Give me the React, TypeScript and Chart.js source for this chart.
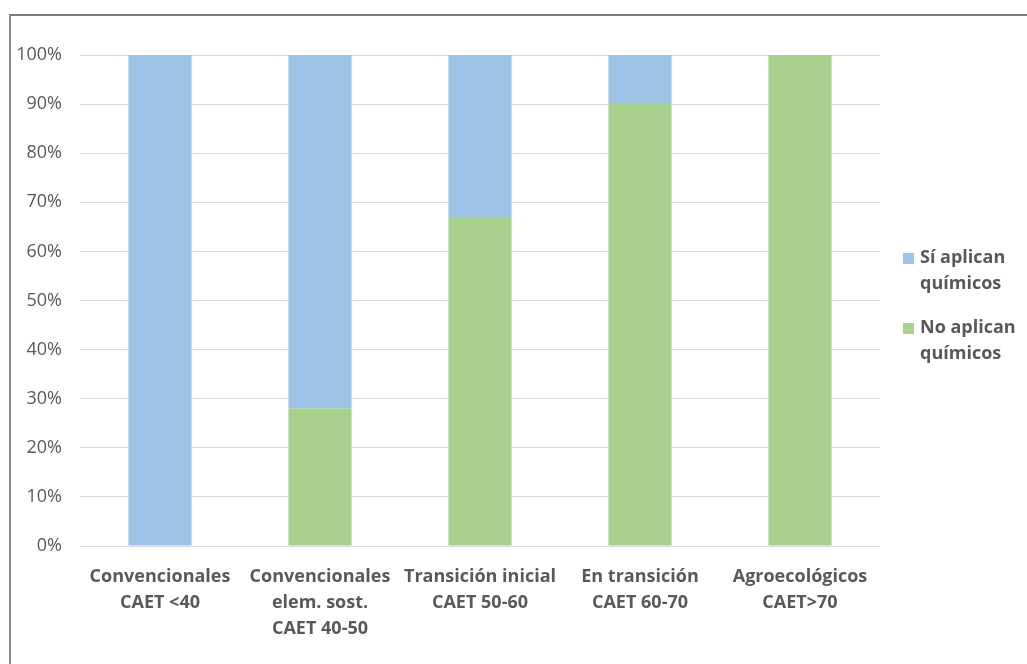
import React, { useEffect, useRef } from "react";
import { Chart, registerables } from "chart.js";

Chart.register(...registerables);

const categories: string[][] = [
  ["Convencionales", "CAET <40"],
  ["Convencionales", "elem. sost.", "CAET 40-50"],
  ["Transición inicial", "CAET 50-60"],
  ["En transición", "CAET 60-70"],
  ["Agroecológicos", "CAET>70"],
];
const noAplican: number[] = [0, 28, 67, 90, 100];
const siAplican: number[] = [100, 72, 33, 10, 0];
const legendOrder: string[][] = [
  ["Sí aplican", "químicos"],
  ["No aplican", "químicos"],
];

const BLUE = "#9DC3E6";
const GREEN = "#A9D18E";
const TEXT = "#595959";
const FONT = "'Open Sans', sans-serif";

const legendPlugin = {
  id: "sideLegend",
  afterDraw(chart: any) {
    const ctx = chart.ctx;
    const area = chart.chartArea;
    const items = [
      { lines: legendOrder[0], color: BLUE },
      { lines: legendOrder[1], color: GREEN },
    ];
    ctx.save();
    ctx.font = `bold 18px ${FONT}`;
    ctx.fillStyle = TEXT;
    ctx.textBaseline = "middle";
    const x0 = area.right + 23;
    let y = 258;
    items.forEach((it) => {
      ctx.fillStyle = it.color;
      ctx.fillRect(x0, y - 5, 11, 11);
      ctx.fillStyle = TEXT;
      it.lines.forEach((ln: string, i: number) => {
        ctx.fillText(ln, x0 + 17, y + i * 26);
      });
      y += 70;
    });
    ctx.restore();
  },
};

export default function App() {
  const ref = useRef<HTMLCanvasElement>(null);
  useEffect(() => {
    if (!ref.current) return;
    const chart = new Chart(ref.current, {
      type: "bar",
      data: {
        labels: categories,
        datasets: [
          { label: "No aplican químicos", data: noAplican, backgroundColor: GREEN, barPercentage: 0.79, categoryPercentage: 0.5 },
          { label: "Sí aplican químicos", data: siAplican, backgroundColor: BLUE, barPercentage: 0.79, categoryPercentage: 0.5 },
        ],
      },
      options: {
        animation: false,
        responsive: true,
        maintainAspectRatio: false,
        layout: { padding: { top: 55, right: 147, bottom: 18, left: 0 } },
        plugins: { legend: { display: false }, tooltip: { enabled: false } },
        scales: {
          x: {
            stacked: true,
            grid: { display: false },
            border: { display: false },
            ticks: {
              color: TEXT,
              font: { family: FONT, size: 18, weight: "bold", lineHeight: 1.45 },
              padding: 10,
              maxRotation: 0,
              autoSkip: false,
            },
            afterFit(scale: any) {
              scale.height = 100;
            },
          },
          y: {
            stacked: true,
            min: 0,
            max: 100,
            border: { display: false },
            grid: { color: "#D9D9D9", lineWidth: 1, drawTicks: false },
            ticks: {
              stepSize: 10,
              color: TEXT,
              font: { family: FONT, size: 18 },
              padding: 18,
              callback: (v: any) => v + "%",
            },
            afterFit(scale: any) {
              scale.width = 80;
            },
          },
        },
      },
      plugins: [legendPlugin],
    });
    return () => chart.destroy();
  }, []);
  return (
    <div style={{ position: "fixed", left: 0, top: 0, width: 1027, height: 664, background: "#fff" }}>
      <div
        style={{
          position: "absolute",
          left: 9,
          top: 14,
          width: 1100,
          height: 700,
          borderTop: "2px solid #7a7a7a",
          borderLeft: "2px solid #8a8a8a",
        }}
      />
      <canvas ref={ref} style={{ position: "absolute", left: 0, top: 0 }} />
    </div>
  );
}
